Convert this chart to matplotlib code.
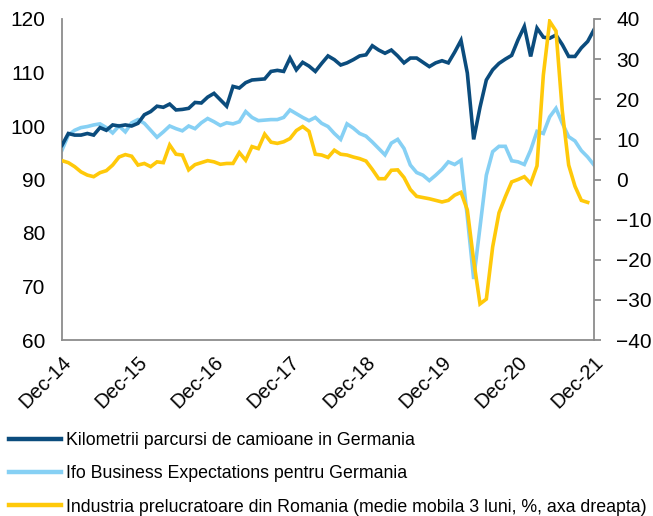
import matplotlib
matplotlib.use("Agg")
import matplotlib.pyplot as plt
from matplotlib.lines import Line2D

plt.rcParams['font.family'] = ['Liberation Sans', 'DejaVu Sans']

tick_labels = ["Dec-14", "Dec-15", "Dec-16", "Dec-17", "Dec-18", "Dec-19", "Dec-20", "Dec-21"]

truck_km = [96.4, 98.6, 98.3, 98.3, 98.6, 98.3, 99.7, 99.2, 100.2, 100.0, 100.2, 100.0,
            100.5, 102.1, 102.7, 103.7, 103.5, 104.1, 103.0, 103.1, 103.3, 104.4, 104.3, 105.4,
            106.1, 104.9, 103.7, 107.4, 107.1, 108.1, 108.6, 108.7, 108.8, 110.2, 110.4, 110.2,
            112.7, 110.5, 111.9, 111.2, 110.2, 111.7, 113.1, 112.4, 111.4, 111.8, 112.4, 113.1,
            113.3, 115.0, 114.2, 113.6, 114.2, 113.1, 111.8, 112.7, 112.7, 111.9, 111.1, 111.8,
            112.2, 111.8, 113.8, 116.0, 109.9, 97.5, 103.5, 108.6, 110.5, 111.7, 112.5, 113.2,
            116.1, 118.6, 113.0, 118.3, 116.6, 116.4, 117.0, 115.2, 113.0, 113.0, 114.6, 115.8,
            118.0]

ifo_expect = [95.5, 98.3, 99.2, 99.7, 99.9, 100.2, 100.4, 99.7, 98.7, 100.0, 98.9, 100.6,
              101.2, 100.5, 99.2, 97.9, 98.9, 100.0, 99.5, 99.1, 100.0, 99.5, 100.6, 101.4,
              100.8, 100.1, 100.6, 100.4, 100.8, 102.7, 101.6, 101.0, 101.1, 101.2, 101.2, 101.6,
              103.0, 102.3, 101.6, 101.0, 101.6, 100.5, 99.9, 98.6, 97.5, 100.4, 99.6, 98.6,
              98.1, 97.0, 95.8, 94.6, 96.8, 97.5, 95.8, 92.7, 91.3, 90.8, 89.8, 90.8,
              91.9, 93.3, 92.8, 93.6, 83.0, 71.4, 81.1, 90.8, 95.2, 96.2, 96.2, 93.5,
              93.3, 92.8, 95.5, 99.0, 98.6, 101.7, 103.3, 100.5, 98.0, 97.2, 95.4, 94.2,
              92.7]

ro_manuf = [4.7, 4.2, 3.2, 1.9, 1.1, 0.7, 1.7, 2.2, 3.6, 5.6, 6.2, 5.8,
            3.6, 4.0, 3.2, 4.4, 4.2, 8.6, 6.3, 6.1, 2.4, 3.7, 4.2, 4.7,
            4.4, 3.8, 4.0, 4.0, 6.7, 4.8, 8.2, 7.7, 11.3, 9.3, 9.0, 9.4,
            10.2, 12.2, 13.2, 12.0, 6.3, 6.1, 5.5, 7.3, 6.3, 6.1, 5.6, 5.2,
            4.6, 2.5, 0.2, 0.2, 2.3, 2.4, 0.5, -2.5, -4.2, -4.5, -4.8, -5.2,
            -5.6, -5.2, -3.9, -3.2, -7.6, -20.2, -31.0, -29.8, -16.8, -8.3, -4.3, -0.6,
            0.0, 0.7, -1.0, 3.4, 26.0, 39.4, 37.0, 17.0, 3.6, -1.7, -5.2, -5.7]

labels = ["Kilometrii parcursi de camioane in Germania",
          "Ifo Business Expectations pentru Germania",
          "Industria prelucratoare din Romania (medie mobila 3 luni, %, axa dreapta)"]

c_dark = "#0B4C7D"
c_light = "#86D0F4"
c_yellow = "#FFC90A"
c_axis = "#8C8C8C"

fig = plt.figure(figsize=(6.53, 5.16), dpi=100)
ax = fig.add_axes([62/653, 1 - 340/516, (594-62)/653, (340-19)/516])
ax2 = ax.twinx()

x1 = list(range(len(truck_km)))
x2 = list(range(len(ifo_expect)))
x3 = list(range(len(ro_manuf)))

ax.plot(x2, ifo_expect, color=c_light, lw=2.6, solid_joinstyle='miter', zorder=2)
ax.plot(x1, truck_km, color=c_dark, lw=2.6, solid_joinstyle='miter', zorder=3)
ax2.plot(x3, ro_manuf, color=c_yellow, lw=2.6, solid_joinstyle='miter')

ax.set_xlim(0, 84)
ax.set_ylim(60, 120)
ax2.set_ylim(-40, 40)
ax.set_yticks(range(60, 121, 10))
ax2.set_yticks(range(-40, 41, 10))
ax.set_xticks(range(0, 85, 12))
ax.set_xticklabels(tick_labels, rotation=45, ha='right', rotation_mode='anchor')

for a in (ax, ax2):
    for s in a.spines.values():
        s.set_color(c_axis)
        s.set_linewidth(1.3)
    a.spines['top'].set_visible(False)
ax.spines['right'].set_visible(False)
ax2.spines['left'].set_visible(False)
ax2.spines['bottom'].set_visible(False)

ax.tick_params(axis='y', length=0, pad=12, labelsize=15)
ax.tick_params(axis='x', length=0, pad=9, labelsize=14.5)
ax2.tick_params(axis='y', length=5, width=1.3, color=c_axis, direction='out', pad=11, labelsize=15)

handles = [Line2D([], [], color=c_dark, lw=3.2),
           Line2D([], [], color=c_light, lw=3.2),
           Line2D([], [], color=c_yellow, lw=3.2)]
fig.legend(handles, labels, loc='upper left', bbox_to_anchor=(9/653, 1 - 432/516),
           frameon=False, fontsize=12.8, handlelength=2.9, handletextpad=0.3,
           labelspacing=0.92, borderaxespad=0, borderpad=0)

fig.savefig("out.png", dpi=100)
